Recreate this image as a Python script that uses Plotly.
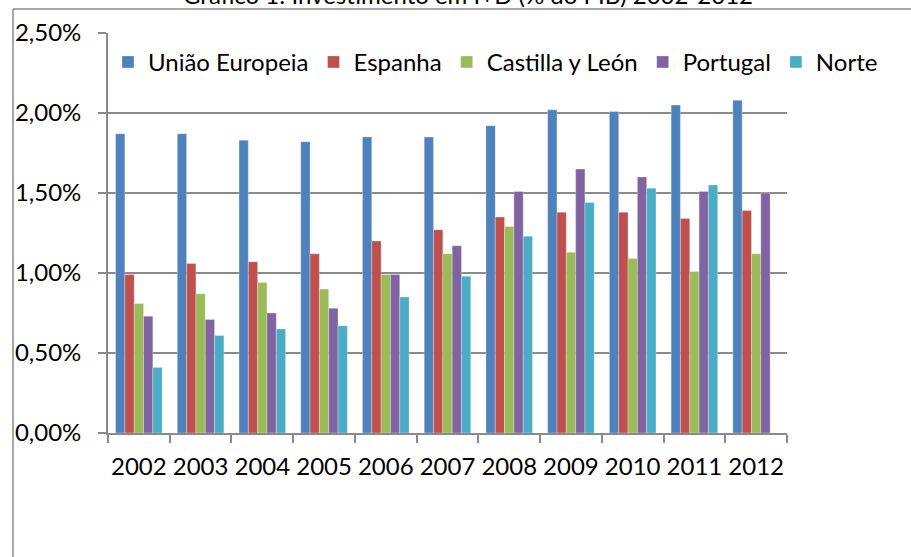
import plotly.graph_objects as go

years = ["2002", "2003", "2004", "2005", "2006", "2007", "2008", "2009", "2010", "2011", "2012"]
uniao_europeia = [1.87, 1.87, 1.83, 1.82, 1.85, 1.85, 1.92, 2.02, 2.01, 2.05, 2.08]
espanha = [0.99, 1.06, 1.07, 1.12, 1.20, 1.27, 1.35, 1.38, 1.38, 1.34, 1.39]
castilla_y_leon = [0.81, 0.87, 0.94, 0.90, 0.99, 1.12, 1.29, 1.13, 1.09, 1.01, 1.12]
portugal = [0.73, 0.71, 0.75, 0.78, 0.99, 1.17, 1.51, 1.65, 1.60, 1.51, 1.50]
norte = [0.41, 0.61, 0.65, 0.67, 0.85, 0.98, 1.23, 1.44, 1.53, 1.55, None]

series = [
    ("União Europeia", uniao_europeia, "#4F81BD"),
    ("Espanha", espanha, "#C0504D"),
    ("Castilla y León", castilla_y_leon, "#9BBB59"),
    ("Portugal", portugal, "#8064A2"),
    ("Norte", norte, "#4BACC6"),
]
title_text = "Gráfico 1: Investimento em I+D (% do PIB) 2002-2012"

FONT = "Lato"
FS = 24
GRID = "#8a8a8a"

L, R, T, B = 108, 124, 33, 124
PW, PH = 911 - L - R, 557 - T - B

fig = go.Figure()
for name, vals, col in series:
    fig.add_trace(go.Bar(x=years, y=vals, name=name, marker_color=col,
                         marker_line=dict(color="rgba(255,255,255,0.5)", width=0.6)))

fig.update_layout(
    width=911, height=557,
    margin=dict(l=L, r=R, t=T, b=B, pad=0, autoexpand=False),
    paper_bgcolor="white", plot_bgcolor="white",
    font=dict(family=FONT, size=FS, color="black"),
    separators=",.",
    barmode="group", bargap=0.245, bargroupgap=0,
    showlegend=True,
    legend=dict(orientation="h", x=(890 - L) / PW, xanchor="right", y=1.0005, yanchor="top",
                bgcolor="rgba(0,0,0,0)", bordercolor="rgba(0,0,0,0)", borderwidth=7,
                font=dict(family=FONT, size=FS, color="black"),
                itemwidth=30, traceorder="normal"),
    xaxis=dict(type="category", showline=True, linecolor=GRID, linewidth=1.7,
               ticks="outside", tickson="boundaries", ticklen=8, tickcolor=GRID, tickwidth=1.7,
               showgrid=False, tickfont=dict(family=FONT, size=FS, color="black"),
               tickangle=0, ticklabelstandoff=11, automargin=False),
    yaxis=dict(range=[0, 2.5], dtick=0.5, tickformat=".2f", ticksuffix="%",
               showline=True, linecolor=GRID, linewidth=1.7,
               ticks="outside", ticklen=8, tickcolor=GRID, tickwidth=1.7,
               showgrid=True, gridcolor=GRID, gridwidth=1.7, zeroline=False,
               tickfont=dict(family=FONT, size=FS, color="black"),
               ticklabelstandoff=12, automargin=False),
)

# chart-area border (left and top edges visible in the crop)
fig.add_shape(type="line", xref="paper", yref="paper",
              x0=(13 - L) / PW, x1=(13 - L) / PW, y0=(433 - 557) / PH, y1=(433 - 9) / PH,
              line=dict(color=GRID, width=1.5))
fig.add_shape(type="line", xref="paper", yref="paper",
              x0=(13 - L) / PW, x1=(911 - L) / PW, y0=(433 - 9) / PH, y1=(433 - 9) / PH,
              line=dict(color=GRID, width=1.5))

fig.add_annotation(text=title_text, xref="paper", yref="paper",
                   x=(468 - L) / PW, y=(433 - 11) / PH, xanchor="center", yanchor="bottom",
                   showarrow=False, font=dict(family=FONT, size=FS, color="black"))

fig.write_html("out.html", config={"displayModeBar": False},
               post_script="document.body.style.margin='0px';")
